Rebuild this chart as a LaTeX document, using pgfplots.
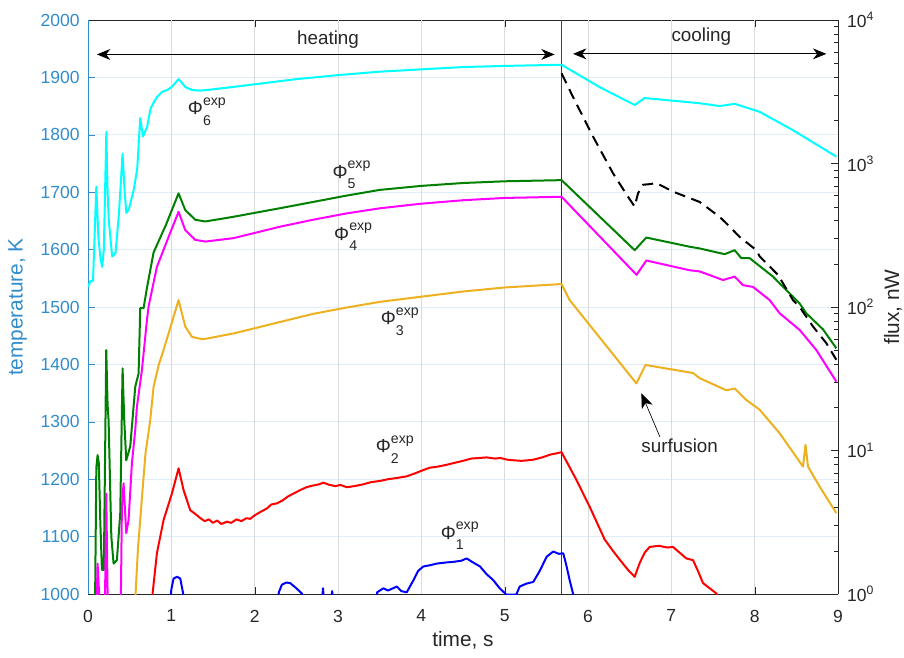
\documentclass[border=0pt]{standalone}
\usepackage{fontspec}
\setmainfont{Liberation Sans}
\usepackage{pgfplots}
\pgfplotsset{compat=1.18}
\usetikzlibrary{arrows.meta}
\definecolor{tblue}{RGB}{48,140,205}
\definecolor{morange}{rgb}{0.929,0.694,0.125}
\definecolor{mgreen}{rgb}{0,0.5,0}
\definecolor{mcyan}{RGB}{0,255,255}
\definecolor{mmag}{RGB}{255,0,255}
\definecolor{mred}{RGB}{255,0,0}
\definecolor{mblue}{RGB}{0,0,255}
\definecolor{axgray}{rgb}{0.15,0.15,0.15}
\newcommand{\philab}[1]{Φ\rlap{\smash{\raisebox{0.52em}{\fontsize{8.5}{10}\selectfont exp}}}\rlap{\smash{\raisebox{-0.55em}{\fontsize{8.5}{10}\selectfont #1}}}}
\tikzset{harrow/.style={{Stealth[length=8pt,width=6.5pt,inset=2.5pt]}-{Stealth[length=8pt,width=6.5pt,inset=2.5pt]}, line width=0.5pt, black},
  ann/.style={axgray, font=\fontsize{11.3}{13.5}\selectfont}}
\begin{document}
\begin{tikzpicture}[font=\fontsize{10.5}{12.6}\selectfont]
\begin{axis}[
  name=main,
  scale only axis, width=450pt, height=344.4pt,
  xmin=0, xmax=9, ymin=1000, ymax=2000,
  axis y line*=left, axis x line*=box,
  xtick={0,...,9}, ytick={1000,1100,...,2000},
  tick align=inside, major tick length=4.5pt,
  /pgf/number format/assume math mode=true,
  /pgf/number format/1000 sep={},
  ymajorgrids, grid style={tblue!16, line width=0.5pt},
  y axis line style={tblue, line width=0.5pt},
  x axis line style={axgray, line width=0.5pt},
  ytick style={tblue}, xtick style={axgray},
  yticklabel style={tblue, xshift=-1.5pt},
  xticklabel style={axgray, yshift=-6pt},
  ylabel={temperature, K},
  ylabel style={tblue, font=\fontsize{12.5}{15}\selectfont, at={(axis description cs:-0.094,0.5)}, anchor=center},
  xlabel={time, s},
  xlabel style={axgray, font=\fontsize{12.5}{15}\selectfont, at={(axis description cs:0.5,-0.08)}, anchor=center},
  every axis plot/.append style={line width=1.2pt, line join=round},
]
\pgfplotsinvokeforeach{1,...,8}{\draw[black!14, line width=0.5pt] (axis cs:#1,1000) -- (axis cs:#1,2000);}
% vertical marker line
\draw[black!75, line width=0.5pt] (axis cs:5.683,1000) -- (axis cs:5.683,2000);
\draw[black!80, line width=0.9pt] (axis cs:5.683,1634) -- (axis cs:5.683,1821);
\draw[black!80, line width=0.9pt] (axis cs:5.683,1159) -- (axis cs:5.683,1343);
% cyan Phi6
\addplot[mcyan] coordinates {
(0.0,1535) (0.03,1545) (0.06,1545) (0.1,1710) (0.125,1620) (0.15,1585) (0.17,1570) (0.19,1600)
(0.22,1805) (0.235,1700) (0.25,1650) (0.29,1588) (0.33,1594) (0.37,1660) (0.415,1767) (0.44,1700)
(0.46,1664) (0.49,1670) (0.55,1705) (0.59,1740) (0.627,1829) (0.66,1797) (0.71,1814) (0.75,1845)
(0.79,1857) (0.83,1866) (0.89,1875) (0.95,1878) (1.01,1884) (1.087,1897) (1.17,1883) (1.25,1878)
(1.35,1877) (1.55,1880) (2.0,1888) (2.5,1897) (3.0,1904) (3.5,1910) (4.0,1914) (4.5,1918)
(5.0,1920) (5.683,1922) (6.14,1883)
(6.56,1852) (6.68,1864) (7.34,1855) (7.58,1850) (7.76,1854) (8.06,1840) (8.46,1808) (8.98,1762)
};
% green Phi5
\addplot[mgreen] coordinates {
(0.085,990) (0.1,1220) (0.115,1242) (0.13,1228) (0.147,1129) (0.167,1042) (0.19,1042) (0.219,1425)
(0.235,1330) (0.247,1303) (0.28,1100) (0.307,1053) (0.347,1059) (0.387,1141) (0.415,1393) (0.435,1303)
(0.459,1233) (0.507,1257) (0.567,1361) (0.607,1384) (0.627,1498) (0.667,1498) (0.707,1533) (0.787,1595)
(0.907,1634) (0.927,1640) (1.087,1698) (1.167,1669) (1.287,1652) (1.407,1649) (1.74,1657) (2.0,1664)
(2.3,1672) (2.7,1683) (3.1,1694) (3.5,1704) (4.0,1711) (4.5,1716) (5.0,1719) (5.683,1721)
(6.56,1599) (6.70,1621) (7.22,1605) (7.34,1602)
(7.64,1592) (7.76,1599) (7.84,1585) (7.94,1585) (8.22,1553) (8.30,1541) (8.46,1518) (8.54,1506)
(8.62,1489) (8.82,1461) (8.98,1428)
};
% magenta Phi4
\addplot[mmag] coordinates {
(0.105,990) (0.115,1053) (0.13,1010) (0.14,990) (0.19,990) (0.205,1000) (0.219,1175) (0.235,1000)
(0.245,990) (0.38,990) (0.395,1000) (0.407,1152) (0.427,1193) (0.459,1106) (0.487,1129) (0.527,1228)
(0.567,1286) (0.587,1326) (0.647,1390) (0.707,1477) (0.727,1501) (0.827,1570) (0.967,1622) (1.087,1666)
(1.167,1634) (1.287,1617) (1.407,1614) (1.747,1620) (2.0,1629) (2.306,1640) (2.7,1652) (3.1,1663)
(3.505,1672) (4.0,1680) (4.5,1686) (5.0,1690) (5.683,1692)
(6.583,1556) (6.70,1581) (7.22,1564) (7.34,1562) (7.62,1547) (7.76,1553) (7.86,1538)
(7.98,1535) (8.18,1512) (8.30,1489) (8.54,1460) (8.74,1425) (8.98,1370)
};
% orange Phi3
\addplot[morange] coordinates {
(0.567,990) (0.6,1080) (0.667,1204) (0.69,1245) (0.747,1303) (0.787,1361) (0.85,1400) (0.907,1425)
(1.027,1483) (1.087,1512) (1.167,1466) (1.247,1448) (1.367,1444) (1.427,1445) (1.747,1454) (2.0,1463)
(2.306,1474) (2.7,1488) (3.1,1499) (3.505,1509) (4.0,1518) (4.5,1527) (5.0,1534) (5.683,1540)
(5.78,1512) (6.58,1367) (6.69,1399) (7.26,1385)
(7.34,1376) (7.66,1355) (7.76,1358) (7.90,1338) (8.06,1321) (8.30,1280) (8.58,1222) (8.61,1260)
(8.64,1222) (8.78,1187) (8.98,1141)
};
% red Phi2
\addplot[mred] coordinates {
(0.767,990) (0.827,1071) (0.907,1129) (1.007,1175) (1.087,1219) (1.147,1181) (1.227,1146) (1.30,1138)
(1.35,1132) (1.40,1127) (1.45,1130) (1.50,1124) (1.55,1128) (1.60,1122) (1.667,1126) (1.72,1124)
(1.78,1130) (1.84,1127) (1.90,1132) (1.947,1131) (2.00,1137) (2.07,1143) (2.146,1149) (2.2,1156)
(2.27,1158) (2.345,1164) (2.40,1170) (2.48,1176) (2.546,1181) (2.62,1186) (2.70,1189) (2.77,1191)
(2.825,1194) (2.90,1190) (2.97,1188) (3.03,1190) (3.106,1186) (3.2,1188) (3.3,1191) (3.4,1195)
(3.505,1197) (3.6,1200) (3.7,1202) (3.825,1205) (3.92,1210) (4.024,1216) (4.1,1220) (4.2,1222)
(4.3,1225) (4.384,1228) (4.5,1232) (4.6,1236) (4.7,1237) (4.784,1238) (4.88,1236) (4.95,1237)
(5.03,1234) (5.103,1233) (5.2,1232) (5.28,1233) (5.343,1234) (5.45,1238) (5.55,1243) (5.62,1245)
(5.683,1247) (5.86,1199) (6.02,1152) (6.20,1095) (6.30,1075) (6.38,1060) (6.48,1042) (6.56,1030)
(6.62,1054) (6.68,1072) (6.74,1082) (6.85,1084) (6.95,1081) (7.02,1082) (7.10,1072) (7.18,1062)
(7.26,1059) (7.32,1040) (7.38,1019) (7.46,1010) (7.54,1001) (7.58,990)
};
% blue Phi1
\addplot[mblue] coordinates {
(0.98,970) (1.0,1008) (1.027,1027) (1.07,1030) (1.107,1027) (1.139,1003) (1.16,970) (2.27,970)
(2.29,1003) (2.326,1016) (2.38,1020) (2.426,1019) (2.5,1010) (2.566,1001) (2.58,970) (2.80,970)
(2.82,1010) (2.84,970) (2.90,970) (2.93,1005) (2.95,970) (3.45,970) (3.47,1003) (3.545,1010)
(3.6,1006) (3.705,1013) (3.76,1005) (3.825,1003) (3.905,1024) (3.96,1040) (4.024,1048) (4.1,1050)
(4.184,1053) (4.30,1055) (4.384,1056) (4.48,1058) (4.544,1062) (4.62,1055) (4.704,1048) (4.78,1035)
(4.864,1024) (4.94,1010) (4.984,1004) (5.02,999) (5.14,999) (5.18,1013) (5.26,1018) (5.343,1021)
(5.42,1040) (5.504,1065) (5.583,1074) (5.65,1070) (5.703,1071) (5.74,1050) (5.78,1024) (5.82,1001)
(5.84,970)
};
% dashed black
\addplot[black, dash pattern=on 6.5pt off 4pt] coordinates {
(5.683,1907) (5.82,1866) (6.06,1797) (6.30,1733) (6.48,1692) (6.56,1675) (6.60,1698) (6.66,1713)
(6.74,1714) (6.82,1716) (7.02,1701) (7.18,1692) (7.34,1683) (7.58,1657) (7.70,1640) (7.82,1622)
(8.02,1599) (8.06,1588) (8.28,1556) (8.46,1512) (8.54,1500) (8.70,1466) (8.86,1437) (8.98,1408)
};
% annotations
\draw[harrow] (axis cs:0.107,1940) -- (axis cs:5.60,1940);
\draw[harrow] (axis cs:5.82,1941) -- (axis cs:8.86,1941);
\node[ann] at (axis cs:2.88,1966) {heating};
\node[ann] at (axis cs:7.36,1971) {cooling};
\draw[-{Stealth[length=9pt,width=7pt,inset=2.5pt]}, line width=0.4pt, black] (axis cs:6.862,1274) -- (axis cs:6.64,1350);
\node[ann] at (axis cs:7.10,1258) {surfusion};
\node[ann] at (axis cs:1.29,1846) {\philab{6}};
\node[ann] at (axis cs:3.025,1736) {\philab{5}};
\node[ann] at (axis cs:3.045,1628) {\philab{4}};
\node[ann] at (axis cs:3.605,1480) {\philab{3}};
\node[ann] at (axis cs:3.545,1257) {\philab{2}};
\node[ann] at (axis cs:4.324,1106) {\philab{1}};
\end{axis}
\begin{axis}[
  scale only axis, width=450pt, height=344.4pt,
  xmin=0, xmax=9, ymode=log, log basis y=10, ymin=1, ymax=10000,
  axis y line*=right, axis x line=none,
  ytick={1,10,100,1000,10000},
  minor ytick={2,3,4,5,6,7,8,9,20,30,40,50,60,70,80,90,200,300,400,500,600,700,800,900,2000,3000,4000,5000,6000,7000,8000,9000},
  yticklabels={10\textsuperscript{0},10\textsuperscript{1},10\textsuperscript{2},10\textsuperscript{3},10\textsuperscript{4}},
  tick align=inside, major tick length=4.5pt, minor tick length=2.5pt,
  y axis line style={axgray, line width=0.5pt},
  ytick style={axgray},
  yticklabel style={axgray, xshift=2pt},
  ylabel={flux, nW},
  ylabel style={axgray, font=\fontsize{12.5}{15}\selectfont, at={(axis description cs:1.0733,0.5)}, anchor=center},
]
\addplot[draw=none] coordinates {(0,1) (9,10000)};
\end{axis}
\pgfresetboundingbox
\path[use as bounding box] ([shift={(-52.8pt,-37.8pt)}]main.south west) rectangle ([shift={(39.6pt,12pt)}]main.north east);
\end{tikzpicture}
\end{document}
